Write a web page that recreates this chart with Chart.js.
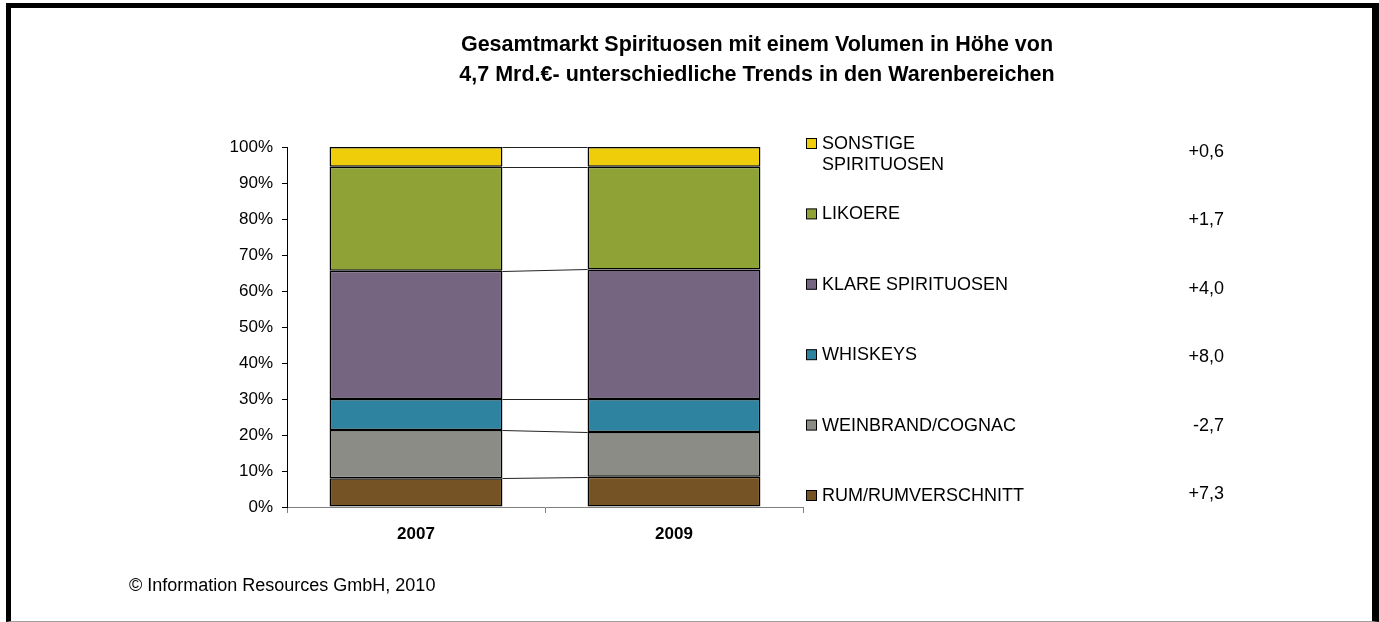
<!DOCTYPE html>
<html>
<head>
<meta charset="utf-8">
<script src="https://cdn.jsdelivr.net/npm/chart.js@4"></script>
<style>
  body { margin: 0; background: #fff; }
  #wrap { position: relative; width: 1379px; height: 622px; overflow: hidden; }
  #frame {
    position: absolute; left: 6px; top: 3px; right: 0; bottom: 0;
    box-sizing: border-box;
    border-left: 5px solid #000; border-top: 5px solid #000;
    border-right: 7px solid #000; border-bottom: 1px solid #a0a0a0;
    pointer-events: none;
  }
</style>
</head>
<body>
<div id="wrap">
  <canvas id="chart" width="1379" height="622"></canvas>
  <div id="frame"></div>
</div>
<script>
const years = ["2007", "2009"];

// shares in % (bottom to top of the stack)
const rum       = [8.0, 8.4];
const weinbrand = [13.4, 12.4];
const whiskeys  = [8.6, 9.2];
const klare     = [35.6, 36.0];
const likoere   = [28.9, 28.5];
const sonstige  = [5.5, 5.5];

const seriesNames = [
  "RUM/RUMVERSCHNITT",
  "WEINBRAND/COGNAC",
  "WHISKEYS",
  "KLARE SPIRITUOSEN",
  "LIKOERE",
  "SONSTIGE SPIRITUOSEN"
];
const legendLines = [
  ["RUM/RUMVERSCHNITT"],
  ["WEINBRAND/COGNAC"],
  ["WHISKEYS"],
  ["KLARE SPIRITUOSEN"],
  ["LIKOERE"],
  ["SONSTIGE", "SPIRITUOSEN"]
];
const changes = ["+7,3", "-2,7", "+8,0", "+4,0", "+1,7", "+0,6"];

const titleLines = [
  "Gesamtmarkt Spirituosen mit einem Volumen in Höhe von",
  "4,7 Mrd.€- unterschiedliche Trends in den Warenbereichen"
];
const footnote = "© Information Resources GmbH, 2010";

const colors = ["#765325", "#8c8c87", "#2e84a0", "#756580", "#8fa236", "#f0cd0a"];
const FONT = "'Liberation Sans', Arial, sans-serif";

Chart.defaults.font.family = FONT;
Chart.defaults.color = "#000";

const values = [rum, weinbrand, whiskeys, klare, likoere, sonstige];

// connecting lines between the two bars + title, legend, changes, footnote
const extras = {
  id: "extras",
  afterDatasetsDraw(chart) {
    const ctx = chart.ctx;
    const y = chart.scales.y;
    const a = chart.getDatasetMeta(0).data[0];
    const b = chart.getDatasetMeta(0).data[1];
    const x1 = a.x + a.width / 2;
    const x2 = b.x - b.width / 2;
    let c1 = 0, c2 = 0;
    ctx.save();
    ctx.strokeStyle = "#222";
    ctx.lineWidth = 1;
    values.forEach(v => {
      c1 += v[0];
      c2 += v[1];
      ctx.beginPath();
      ctx.moveTo(x1, Math.round(y.getPixelForValue(c1)) + 0.5);
      ctx.lineTo(x2, Math.round(y.getPixelForValue(c2)) + 0.5);
      ctx.stroke();
    });
    ctx.restore();
  },
  afterDraw(chart) {
    const ctx = chart.ctx;
    ctx.save();
    ctx.fillStyle = "#000";
    ctx.textBaseline = "middle";

    ctx.font = "bold 21.5px " + FONT;
    ctx.textAlign = "center";
    titleLines.forEach((t, i) => ctx.fillText(t, 757, 45 + i * 30));

    ctx.font = "18px " + FONT;
    for (let r = 0; r < 6; r++) {
      const i = 5 - r;
      const ry = 144 + r * 70.4;
      ctx.fillStyle = colors[i];
      ctx.fillRect(806.5, ry - 5.5, 10, 10);
      ctx.strokeStyle = "#000";
      ctx.lineWidth = 1;
      ctx.strokeRect(806.5, ry - 5.5, 10, 10);
      ctx.fillStyle = "#000";
      ctx.textAlign = "left";
      legendLines[i].forEach((t, k) => ctx.fillText(t, 822, ry + k * 21));
      ctx.textAlign = "right";
      ctx.fillText(changes[i], 1224, 152 + r * 68.5);
    }

    ctx.textAlign = "left";
    ctx.fillText(footnote, 129, 586);
    ctx.restore();
  }
};

new Chart(document.getElementById("chart"), {
  type: "bar",
  data: {
    labels: years,
    datasets: values.map((v, i) => ({
      label: seriesNames[i],
      data: v,
      backgroundColor: colors[i],
      borderColor: "#000",
      borderWidth: 1.5,
      borderSkipped: false,
      barPercentage: 0.67,
      categoryPercentage: 1
    }))
  },
  options: {
    responsive: false,
    animation: false,
    devicePixelRatio: 1,
    layout: { padding: { left: 227, right: 576, top: 147, bottom: 75 } },
    plugins: {
      legend: { display: false },
      title: { display: false },
      tooltip: { enabled: false }
    },
    scales: {
      x: {
        stacked: true,
        afterFit: s => { s.height = 40; },
        grid: { offset: true, drawOnChartArea: false, tickLength: 6, color: "#808080" },
        border: { color: "#808080" },
        ticks: { font: { size: 17, weight: "bold" }, color: "#000", padding: 11 }
      },
      y: {
        stacked: true,
        min: 0,
        max: 100,
        afterFit: s => { s.width = 60; },
        grid: { drawOnChartArea: false, tickLength: 5, color: "#000" },
        border: { color: "#000" },
        ticks: {
          stepSize: 10,
          font: { size: 17 },
          color: "#000",
          padding: 9,
          callback: v => v + "%"
        }
      }
    }
  },
  plugins: [extras]
});
</script>
</body>
</html>
